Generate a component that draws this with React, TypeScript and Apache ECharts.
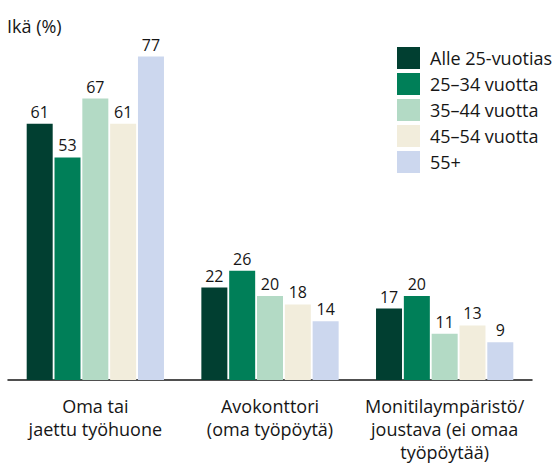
import React, { useEffect, useRef } from "react";
import * as echarts from "echarts";

const categories = ["Oma tai\njaettu työhuone", "Avokonttori\n(oma työpöytä)", "Monitilaympäristö/\njoustava (ei omaa\ntyöpöytää)"];
const seriesNames = ["Alle 25-vuotias", "25–34 vuotta", "35–44 vuotta", "45–54 vuotta", "55+"];
const under25 = [61, 22, 17];
const age25to34 = [53, 26, 20];
const age35to44 = [67, 20, 11];
const age45to54 = [61, 18, 13];
const age55plus = [77, 14, 9];
const colors = ["#013f31", "#007f58", "#b3dac5", "#f2eddc", "#ccd7ee"];

const FONT = "'Open Sans', 'Noto Sans', sans-serif";
const TEXT = "#161616";

export default function App() {
  const ref = useRef<HTMLDivElement>(null);
  useEffect(() => {
    if (!ref.current) return;
    const chart = echarts.init(ref.current, null, { renderer: "svg" });
    const values = [under25, age25to34, age35to44, age45to54, age55plus];
    chart.setOption({
      animation: false,
      title: {
        text: "Ikä (%)",
        left: 7,
        top: 17,
        padding: 0,
        textStyle: { fontFamily: FONT, fontSize: 18, fontWeight: 500, color: TEXT },
      },
      legend: {
        orient: "vertical",
        left: 397,
        top: 47,
        padding: 0,
        itemWidth: 23,
        itemHeight: 22,
        itemGap: 4,
        icon: "rect",
        textStyle: { fontFamily: FONT, fontSize: 18, color: TEXT, padding: [0, 0, 0, 5] },
        data: seriesNames,
      },
      grid: { left: 8, right: 26, top: 44, bottom: 83, containLabel: false },
      xAxis: {
        type: "category",
        data: categories,
        axisLine: { lineStyle: { color: TEXT, width: 1.5 } },
        axisTick: { show: false },
        axisLabel: {
          fontFamily: FONT,
          fontSize: 18,
          color: TEXT,
          lineHeight: 23,
          margin: 14,
          interval: 0,
          verticalAlign: "top",
        },
      },
      yAxis: {
        type: "value",
        min: 0,
        max: 80,
        show: false,
        splitLine: { show: false },
      },
      series: seriesNames.map((name, i) => ({
        name,
        type: "bar",
        data: values[i],
        barWidth: 26,
        barGap: "7%",
        itemStyle: { color: colors[i] },
        label: {
          show: true,
          position: "top",
          distance: 4,
          fontFamily: FONT,
          fontSize: 16,
          color: TEXT,
        },
      })),
    });
    return () => chart.dispose();
  }, []);
  return (
    <div
      ref={ref}
      style={{ position: "absolute", left: 0, top: 0, width: 558, height: 463 }}
    />
  );
}
